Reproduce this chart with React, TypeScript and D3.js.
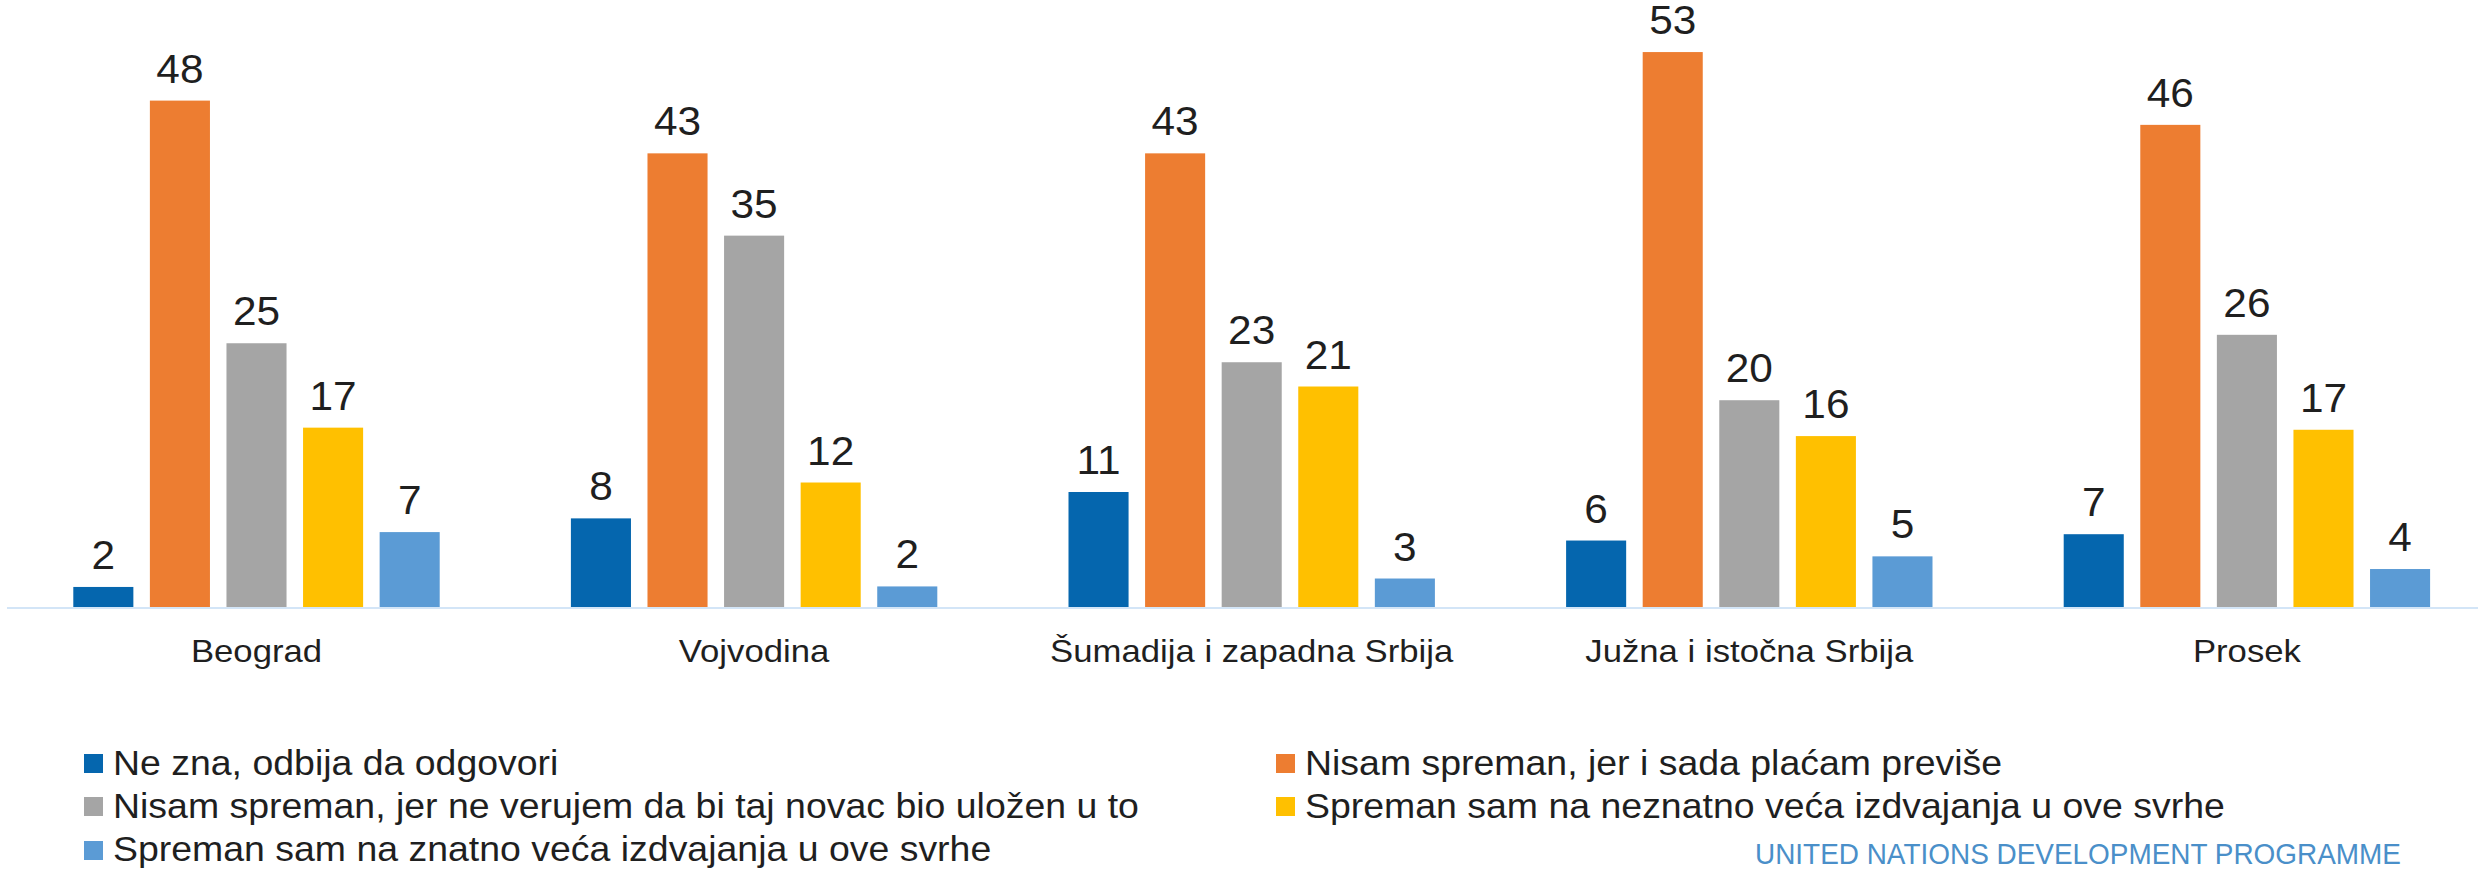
import React from "react";
import * as d3 from "d3";

const categories = [
  "Beograd",
  "Vojvodina",
  "Šumadija i zapadna Srbija",
  "Južna i istočna Srbija",
  "Prosek",
];

const seriesNames = [
  "Ne zna, odbija da odgovori",
  "Nisam spreman, jer i sada plaćam previše",
  "Nisam spreman, jer ne verujem da bi taj novac bio uložen u to",
  "Spreman sam na neznatno veća izdvajanja u ove svrhe",
  "Spreman sam na znatno veća izdvajanja u ove svrhe",
];

const seriesColors = ["#0566AE", "#ED7D31", "#A5A5A5", "#FFC000", "#5B9BD5"];

// values per series, one per category (bar heights; labels shown rounded)
const neZna = [1.9, 8.4, 10.9, 6.3, 6.9];
const placamPrevise = [48.0, 43.0, 43.0, 52.6, 45.7];
const neVerujem = [25.0, 35.2, 23.2, 19.6, 25.8];
const neznatno = [17.0, 11.8, 20.9, 16.2, 16.8];
const znatno = [7.1, 1.95, 2.7, 4.8, 3.6];

const seriesValues = [neZna, placamPrevise, neVerujem, neznatno, znatno];

const W = 2478;
const H = 869;
const FONT = "'Liberation Sans', Arial, Helvetica, sans-serif";

export default function App() {
  const baseline = 607;
  const pxPerUnit = 10.55;
  const y = d3.scaleLinear().domain([0, 60]).range([baseline, baseline - pxPerUnit * 60]);

  const x0 = d3.scaleBand<string>().domain(categories).range([7.7, 7.7 + 5 * 497.6]).padding(0);
  const half = 183.2;
  const x1 = d3
    .scaleBand<string>()
    .domain(seriesNames)
    .range([-half, half])
    .paddingInner(0.2157)
    .paddingOuter(0);

  const fmt = d3.format(".0f");

  const legendCols = [84, 1276];
  const legendRowTop = [754, 797, 841];
  const legendBase = [775, 818, 861];
  const mk = 19;

  return (
    <svg
      width={W}
      height={H}
      style={{ position: "absolute", left: 0, top: 0, background: "#fff" }}
      fontFamily={FONT}
    >
      <rect x={0} y={0} width={W} height={H} fill="#fff" />
      {/* axis baseline */}
      <line x1={7} x2={W} y1={baseline + 1} y2={baseline + 1} stroke="#D3E5F7" strokeWidth={2} />

      {categories.map((c, ci) => {
        const cx = (x0(c) as number) + x0.bandwidth() / 2;
        return (
          <g key={c}>
            {seriesNames.map((s, si) => {
              const v = seriesValues[si][ci];
              const bx = cx + (x1(s) as number);
              const top = y(v);
              return (
                <g key={s}>
                  <rect
                    x={bx}
                    y={top}
                    width={x1.bandwidth()}
                    height={baseline - top}
                    fill={seriesColors[si]}
                  />
                  <text
                    transform={`translate(${bx + x1.bandwidth() / 2},${top - 18}) scale(1.06,1)`}
                    textAnchor="middle"
                    fontSize={40}
                    fill="#1F1F1F"
                  >
                    {fmt(v)}
                  </text>
                </g>
              );
            })}
            <text
              transform={`translate(${cx},662) scale(1.12,1)`}
              textAnchor="middle"
              fontSize={31}
              fill="#1F1F1F"
            >
              {c}
            </text>
          </g>
        );
      })}

      {/* legend */}
      {seriesNames.map((s, si) => {
        const col = si % 2;
        const row = Math.floor(si / 2);
        const lx = legendCols[col];
        return (
          <g key={s}>
            <rect x={lx} y={legendRowTop[row]} width={mk} height={mk} fill={seriesColors[si]} />
            <text
              transform={`translate(${lx + mk + 10},${legendBase[row]}) scale(1.07,1)`}
              fontSize={35}
              fill="#1F1F1F"
            >
              {s}
            </text>
          </g>
        );
      })}

      <text
        x={1755}
        y={864}
        fontSize={30}
        fill="#4A8FC9"
        textLength={646}
        lengthAdjust="spacingAndGlyphs"
      >
        UNITED NATIONS DEVELOPMENT PROGRAMME
      </text>
    </svg>
  );
}
